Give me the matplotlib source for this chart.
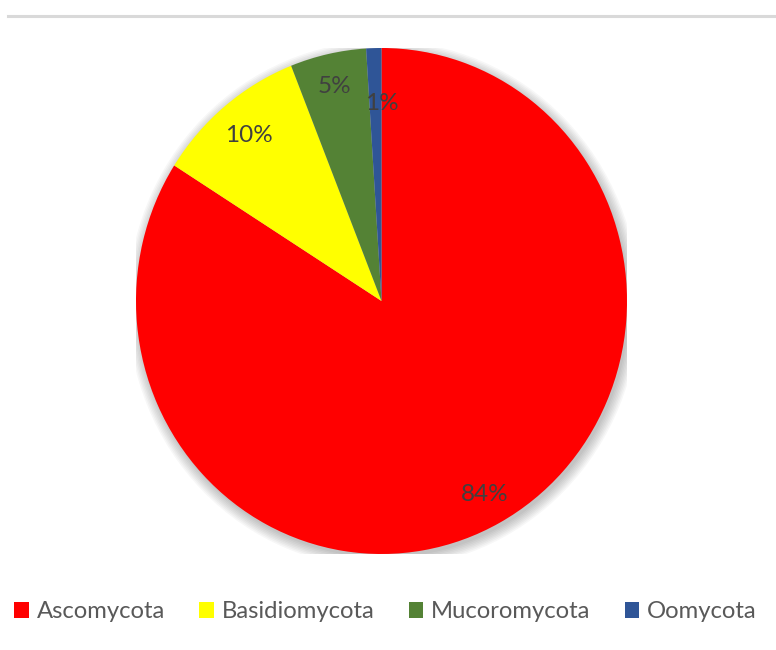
import numpy as np
import matplotlib.pyplot as plt
from matplotlib.patches import Patch, Ellipse
from matplotlib.lines import Line2D

phyla = ['Ascomycota', 'Basidiomycota', 'Mucoromycota', 'Oomycota']
shares = [84, 10, 5, 1]
colors = ['#ff0000', '#ffff00', '#548235', '#2f5597']
label_r = [0.875, 0.85, 0.87, 0.78]

plt.rcParams['font.family'] = ['Lato', 'DejaVu Sans']

fig = plt.figure(figsize=(7.76, 6.5), dpi=100)

# thin grey rule across the top
fig.add_artist(Line2D([8 / 776, 1], [1 - 15.5 / 650] * 2, color='#d9d9d9', lw=2.2,
                      transform=fig.transFigure))

ax = fig.add_axes([136 / 776, 96 / 650, 491 / 776, 506 / 650])
ax.axis('off')

# soft drop shadow under the pie
for k in range(8):
    ax.add_patch(Ellipse((0.008, -0.014), 2 + k * 0.012, 2 + k * 0.012,
                         color='black', alpha=0.03, lw=0, zorder=0))

wedges, _ = ax.pie(shares, colors=colors, startangle=90, counterclock=False,
                   radius=1, normalize=True, frame=False,
                   wedgeprops=dict(linewidth=0))
ax.set_aspect('auto')
ax.set_xlim(-1, 1)
ax.set_ylim(-1, 1)

for w, v, r in zip(wedges, shares, label_r):
    mid = np.deg2rad((w.theta1 + w.theta2) / 2)
    x, y = r * np.cos(mid), r * np.sin(mid)
    if v == 1:
        x = 0.0
    ax.text(x, y, f'{v}%', ha='center', va='center', fontsize=17.5,
            color='#404040', zorder=5)

handles = [Patch(facecolor=c, edgecolor='none') for c in colors]
fig.legend(handles, phyla, loc='center', bbox_to_anchor=(0.497, 1 - 612 / 650),
           ncol=4, frameon=False, fontsize=17.2, labelcolor='#595959',
           handlelength=0.6, handleheight=0.6, handletextpad=0.35,
           columnspacing=1.42)

fig.savefig('out.png', dpi=100, facecolor='white')
